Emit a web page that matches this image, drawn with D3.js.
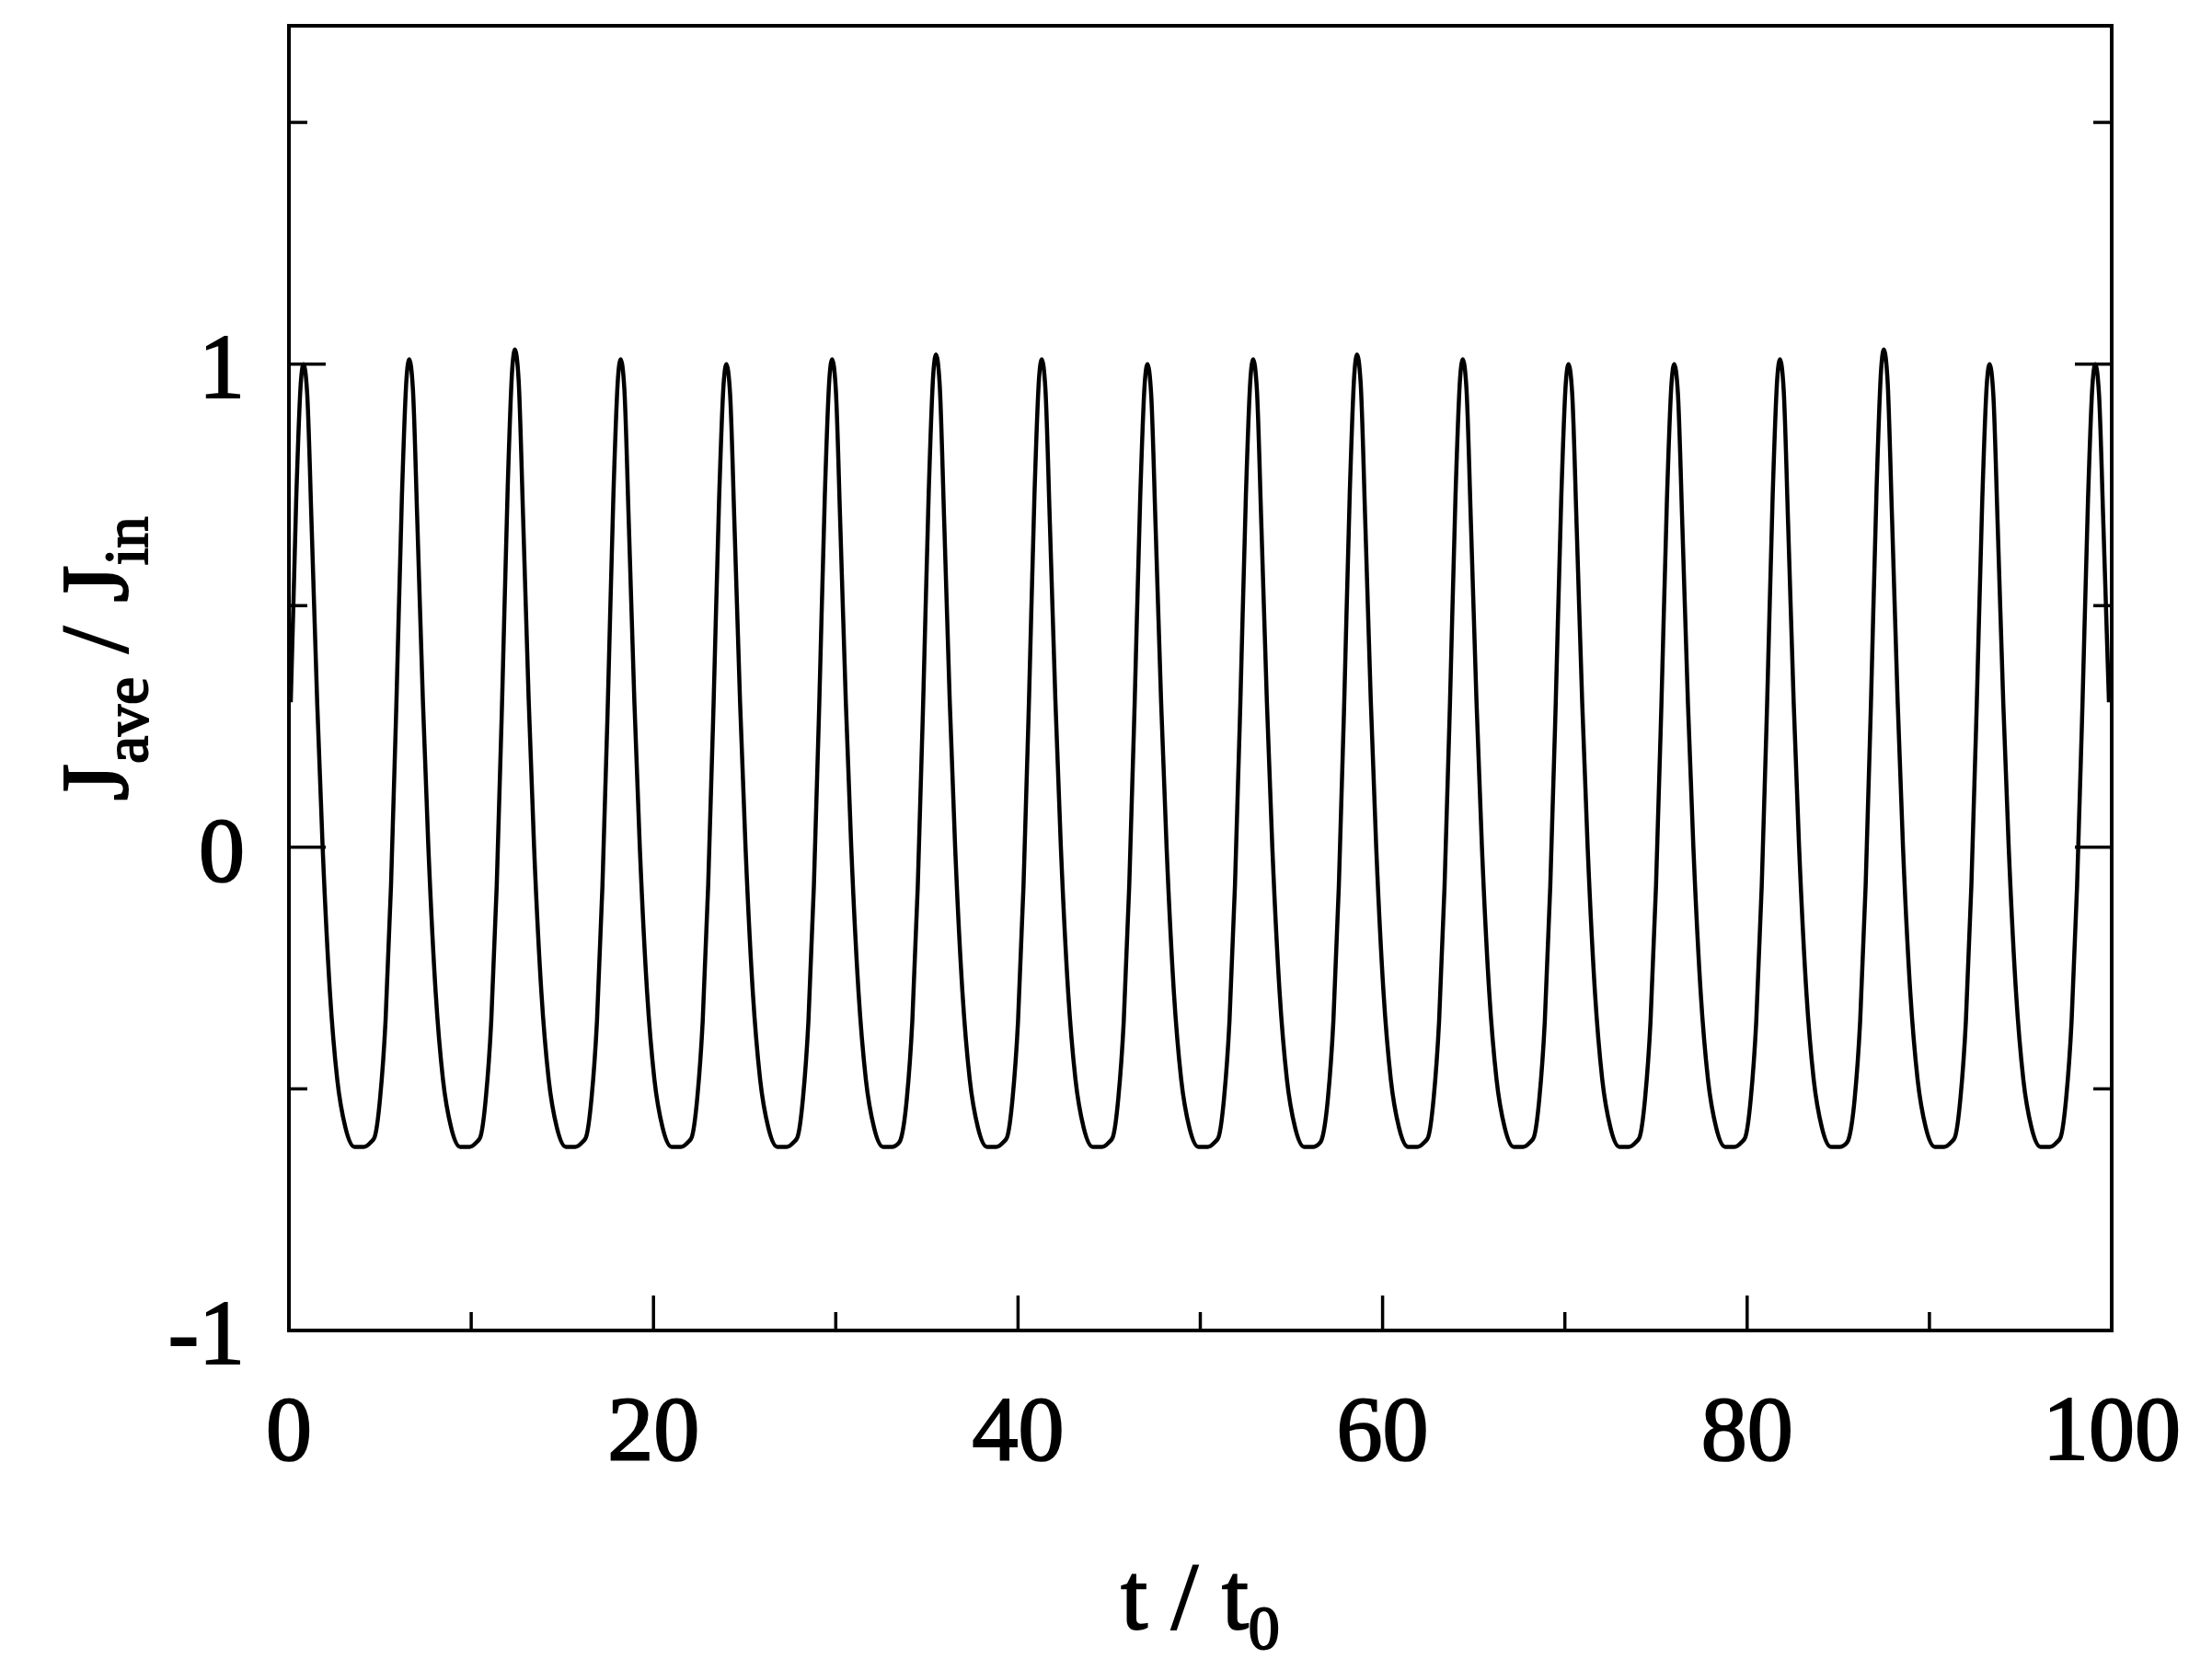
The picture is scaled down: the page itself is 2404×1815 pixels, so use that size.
<!DOCTYPE html>
<html><head><meta charset="utf-8">
<script src="https://cdn.jsdelivr.net/npm/d3@7"></script>
<style>body{margin:0;background:#fff}svg text{font-family:"Liberation Serif","DejaVu Serif",serif;fill:#000;stroke:#000;stroke-width:2}</style>
</head><body><svg id="c" width="2404" height="1815"></svg>
<script>
// peak times and heights
const peakTimes = [0.8, 6.6, 12.4, 18.2, 24.0, 29.8, 35.5, 41.3, 47.1, 52.9, 58.6, 64.4, 70.2, 76.0, 81.8, 87.5, 93.3, 99.1];
const peakHeights = [1.0, 1.01, 1.03, 1.01, 1.0, 1.01, 1.02, 1.01, 1.0, 1.01, 1.02, 1.01, 1.0, 1.0, 1.01, 1.03, 1.0, 1.0];
// one cycle shape, offsets from the peak and values
const cycleDt = [-1.9, -1.6, -1.3, -1.0, -0.7, -0.4, -0.15, 0, 0.2, 0.45, 0.75, 1.05, 1.45, 1.85, 2.3, 2.8, 3.3, 3.7];
const cycleVal = [-0.6, -0.52, -0.36, -0.08, 0.3, 0.72, 0.96, 1.0, 0.94, 0.66, 0.3, 0.0, -0.3, -0.48, -0.58, -0.62, -0.62, -0.61];
const xTicks = [0, 20, 40, 60, 80, 100];
const yTicks = [-1, 0, 1];

const L = 314, R = 2295, T = 28, B = 1446;
const x = d3.scaleLinear().domain([0, 100]).range([L, R]);
const y = d3.scaleLinear().domain([-1, 1.7]).range([B, T]);
const svg = d3.select("#c");

let pts = [];
peakTimes.forEach((p, i) => cycleDt.forEach((dt, j) => {
  const v = cycleVal[j];
  pts.push([p + dt, v > 0 ? v * peakHeights[i] : v]);
}));
pts = pts.filter(d => d[0] >= 0 && d[0] <= 100);

svg.append("defs").append("clipPath").attr("id", "cp")
  .append("rect").attr("x", L).attr("y", T).attr("width", R - L).attr("height", B - T);
svg.append("path").datum(pts).attr("clip-path", "url(#cp)")
  .attr("fill", "none").attr("stroke", "#000").attr("stroke-width", 4.5)
  .attr("d", d3.line().x(d => x(d[0])).y(d => y(d[1])).curve(d3.curveMonotoneX));

const g = svg.append("g").attr("stroke", "#000").attr("stroke-width", 3.5);
d3.range(0, 101, 10).forEach(t => {
  const len = t % 20 === 0 ? 38 : 20;
  g.append("line").attr("x1", x(t)).attr("x2", x(t)).attr("y1", B).attr("y2", B - len);
});
d3.range(-1, 1.71, 0.5).forEach(v => {
  const len = Math.abs(v % 1) < 1e-9 ? 40 : 20;
  g.append("line").attr("x1", L).attr("x2", L + len).attr("y1", y(v)).attr("y2", y(v));
  g.append("line").attr("x1", R).attr("x2", R - len).attr("y1", y(v)).attr("y2", y(v));
});
svg.append("rect").attr("x", L).attr("y", T).attr("width", R - L).attr("height", B - T)
  .attr("fill", "none").attr("stroke", "#000").attr("stroke-width", 4);

svg.selectAll(".xt").data(xTicks).join("text")
  .attr("x", d => x(d)).attr("y", B + 140).attr("text-anchor", "middle")
  .attr("font-size", 100).text(d => d);
svg.selectAll(".yt").data(yTicks).join("text")
  .attr("x", L - 48).attr("y", d => y(d) + 36).attr("text-anchor", "end")
  .attr("font-size", 100).text(d => d);

const xl = svg.append("text").attr("x", x(50)).attr("y", 1770).attr("text-anchor", "middle").attr("font-size", 104);
xl.append("tspan").text("t / t");
xl.append("tspan").attr("font-size", 68).attr("dy", 22).text("0");

const yl = svg.append("text").attr("transform", `translate(138,${y(0.39)}) rotate(-90)`)
  .attr("text-anchor", "middle").attr("font-size", 104);
yl.append("tspan").text("J");
yl.append("tspan").attr("font-size", 68).attr("dy", 22).text("ave");
yl.append("tspan").attr("dy", -22).text(" / J");
yl.append("tspan").attr("font-size", 68).attr("dy", 22).text("in");
</script></body></html>
